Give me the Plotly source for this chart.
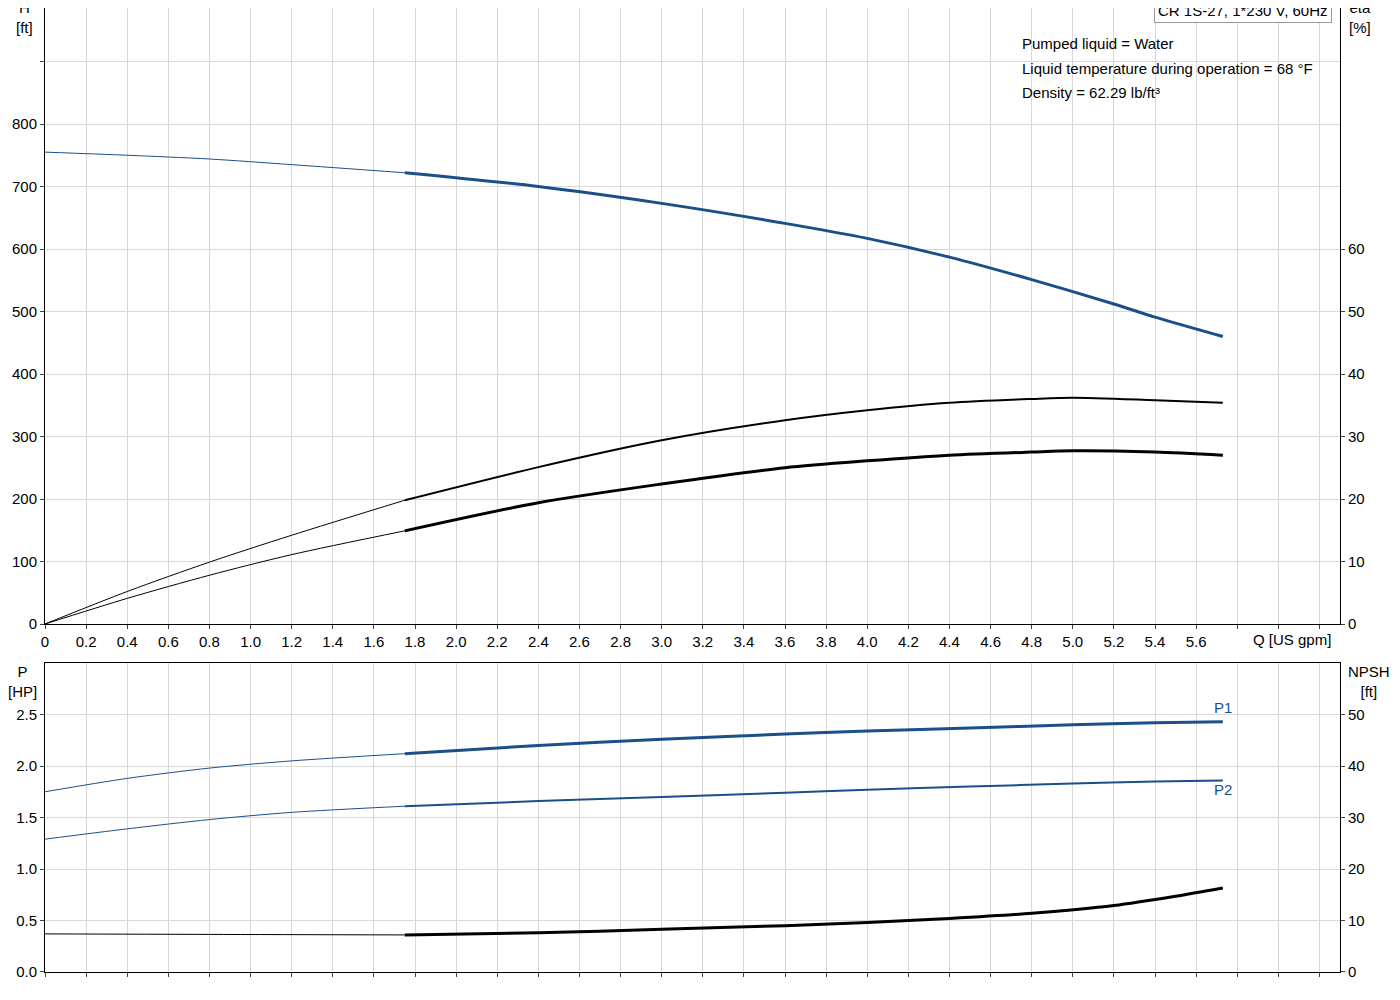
import plotly.graph_objects as go

q_h = [0, 0.4, 0.8, 1.2, 1.75, 2.4, 3.0, 3.6, 4.0, 4.4, 4.8, 5.2, 5.4, 5.73]
h = [755, 750, 744, 735, 722, 700, 673, 641, 617, 587, 551, 512, 491, 460]
q_e = [0, 0.4, 0.8, 1.2, 1.75, 2.4, 3.0, 3.6, 4.0, 4.4, 4.8, 5.0, 5.4, 5.73]
eta1 = [0, 5.2, 9.9, 14.2, 19.8, 25.1, 29.4, 32.6, 34.2, 35.4, 36.0, 36.2, 35.8, 35.4]
eta2 = [0, 4.1, 7.8, 11.1, 14.9, 19.4, 22.4, 25.0, 26.1, 27.0, 27.5, 27.7, 27.5, 27.0]
q_p = [0, 0.4, 0.8, 1.2, 1.75, 2.4, 3.0, 3.6, 4.0, 4.5, 5.0, 5.4, 5.73]
p1 = [1.75, 1.88, 1.98, 2.05, 2.12, 2.20, 2.26, 2.31, 2.34, 2.37, 2.40, 2.42, 2.43]
p2 = [1.29, 1.39, 1.48, 1.55, 1.61, 1.66, 1.70, 1.74, 1.77, 1.80, 1.83, 1.85, 1.86]
q_n = [0, 0.8, 1.75, 2.4, 3.0, 3.6, 4.0, 4.4, 4.8, 5.2, 5.5, 5.73]
npsh = [7.4, 7.3, 7.2, 7.6, 8.3, 9.0, 9.6, 10.4, 11.4, 12.9, 14.7, 16.3]

BLUE = "#1a4f8a"
Q0 = 1.75

def split(x, y):
    a = [(xi, yi) for xi, yi in zip(x, y) if xi <= Q0]
    b = [(xi, yi) for xi, yi in zip(x, y) if xi >= Q0]
    return [p[0] for p in a], [p[1] for p in a], [p[0] for p in b], [p[1] for p in b]

fig = go.Figure()
def add(x, y, color, xa, ya, thick=3):
    xa1, ya1, xb, yb = split(x, y)
    fig.add_trace(go.Scatter(x=xa1, y=ya1, mode="lines", line=dict(color=color, width=1, shape="spline", smoothing=0.8), xaxis=xa, yaxis=ya, showlegend=False))
    fig.add_trace(go.Scatter(x=xb, y=yb, mode="lines", line=dict(color=color, width=thick, shape="spline", smoothing=0.8), xaxis=xa, yaxis=ya, showlegend=False))

add(q_h, h, BLUE, "x", "y")
add(q_e, eta1, "black", "x", "y2", 2)
add(q_e, eta2, "black", "x", "y2", 3)
add(q_p, p1, BLUE, "x2", "y3")
add(q_p, p2, BLUE, "x2", "y3", 2)
add(q_n, npsh, "black", "x2", "y4")

xt = [round(0.2 * i, 1) for i in range(32)]
xl = [f"{v:.1f}" if 0 < v <= 5.6 else ("0" if v == 0 else "") for v in xt]
grid = "#d8d8d8"
f = dict(family="Arial", size=15, color="black")
common = dict(range=[0, 6.3], tickvals=xt, showgrid=True, gridcolor=grid, showline=True, linecolor="black", zeroline=False, ticks="outside", ticklen=4, tickfont=f)
fig.update_layout(
    width=1392, height=992, plot_bgcolor="white", paper_bgcolor="white",
    margin=dict(l=37, r=60, t=0, b=28), font=f,
    xaxis=dict(domain=[0, 1], anchor="y", ticktext=xl, mirror=True, **common),
    xaxis2=dict(domain=[0, 1], anchor="y3", ticktext=[""] * len(xt), mirror=True, **common),
    yaxis=dict(domain=[0.361, 1], range=[0, 985.6], tickvals=list(range(0, 1000, 100)), ticktext=[str(v) if v <= 800 else "" for v in range(0, 1000, 100)], showgrid=True, gridcolor=grid, showline=True, linecolor="black", zeroline=False, ticks="outside", ticklen=4, tickfont=f),
    yaxis2=dict(overlaying="y", side="right", range=[0, 98.56], tickvals=list(range(0, 70, 10)), showgrid=False, showline=True, linecolor="black", zeroline=False, ticks="outside", ticklen=4, tickfont=f, anchor="x"),
    yaxis3=dict(domain=[0, 0.3205], range=[0, 3.0], tickvals=[0, 0.5, 1, 1.5, 2, 2.5], ticktext=["0.0", "0.5", "1.0", "1.5", "2.0", "2.5"], showgrid=True, gridcolor=grid, showline=True, linecolor="black", zeroline=False, ticks="outside", ticklen=4, tickfont=f, anchor="x2"),
    yaxis4=dict(overlaying="y3", side="right", range=[0, 60], tickvals=[0, 10, 20, 30, 40, 50], showgrid=False, showline=True, linecolor="black", zeroline=False, ticks="outside", ticklen=4, tickfont=f, anchor="x2"),
)
def ann(x, y, t, **kw):
    fig.add_annotation(x=x, y=y, xref="paper", yref="paper", text=t, showarrow=False, font=f, **kw)
yp = lambda px: 1 - (px - 8) / 964
xp = lambda px: (px - 45) / 1295
ann(xp(24), yp(18), "H<br>[ft]", xanchor="center", yanchor="middle")
ann(xp(1360), yp(18), "eta<br>[%]", xanchor="center", yanchor="middle")
ann(xp(22), yp(681), "P<br>[HP]", xanchor="center", yanchor="middle")
ann(xp(1369), yp(681), "NPSH<br>[ft]", xanchor="center", yanchor="middle")
ann(xp(1292), yp(639), "Q [US gpm]", xanchor="center", yanchor="middle")
ann(xp(1243), yp(11), "CR 1S-27, 1*230 V, 60Hz", xanchor="center", yanchor="middle", bordercolor="#999", borderwidth=1, borderpad=3, bgcolor="white")
ann(xp(1020), yp(44), "Pumped liquid = Water", xanchor="left", yanchor="middle")
ann(xp(1020), yp(68), "Liquid temperature during operation = 68 °F", xanchor="left", yanchor="middle")
ann(xp(1020), yp(92), "Density = 62.29 lb/ft³", xanchor="left", yanchor="middle")
fig.add_annotation(x=5.73, y=2.43, xref="x2", yref="y3", text="P1", showarrow=False, font=dict(family="Arial", size=15, color=BLUE), yshift=14)
fig.add_annotation(x=5.73, y=1.86, xref="x2", yref="y3", text="P2", showarrow=False, font=dict(family="Arial", size=15, color=BLUE), yshift=-9)
fig.write_html("out.html")
